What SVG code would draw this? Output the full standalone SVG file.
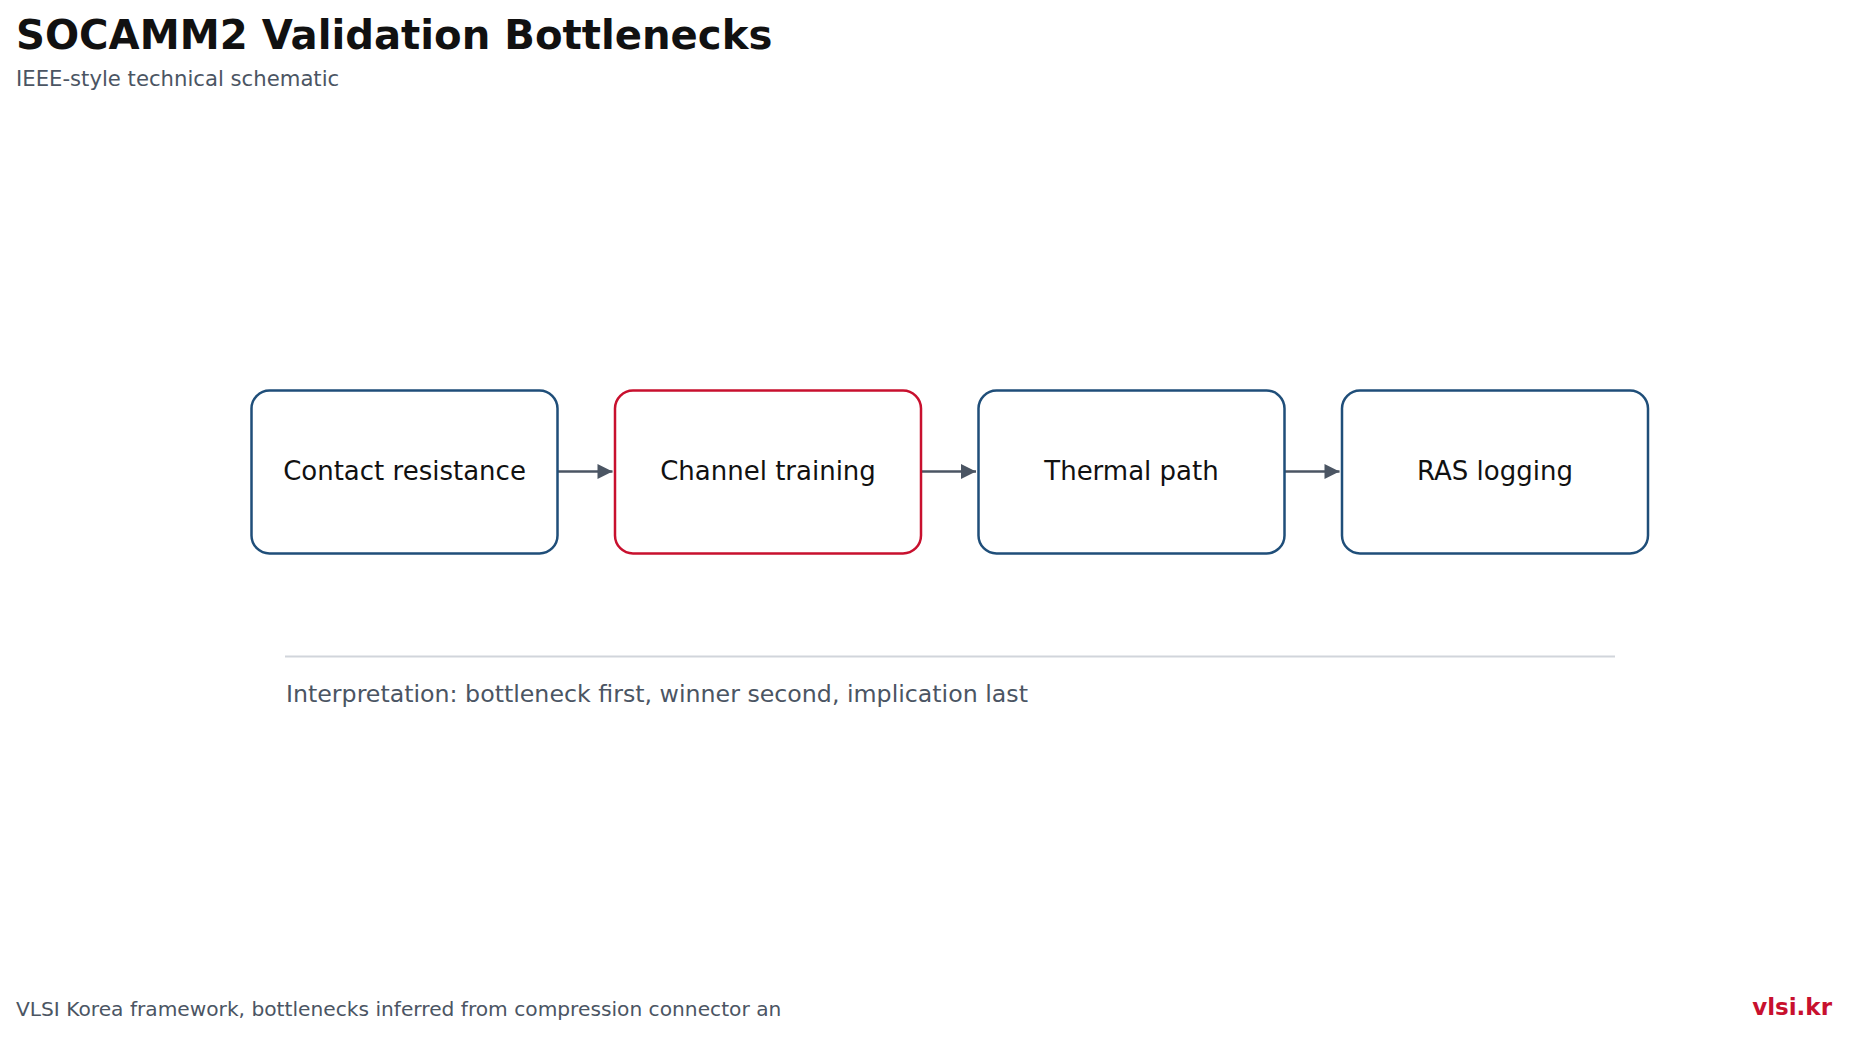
<svg xmlns="http://www.w3.org/2000/svg" width="1849" height="1038" viewBox="0 0 1849 1038">
<style>
.t{font-family:"DejaVu Sans","Noto Sans",sans-serif}
.box{fill:#fff;stroke:#1f4e79;stroke-width:2.5}
.hot{stroke:#c8102e}
.lbl{font-size:26px;fill:#111;text-anchor:middle}
.edge{stroke:#4b5563;stroke-width:2.5;fill:none}
</style>
<defs>
<marker id="ah" viewBox="0 0 10 10" refX="10" refY="5" markerWidth="16" markerHeight="15" markerUnits="userSpaceOnUse" orient="auto"><path d="M0,0L10,5L0,10z" fill="#4b5563"/></marker>
</defs>
<rect width="1849" height="1038" fill="#fff"/>
<text class="t" x="16" y="49" font-size="40.2" font-weight="bold" fill="#111">SOCAMM2 Validation Bottlenecks</text>
<text class="t" x="16" y="86" font-size="21.2" fill="#4b5563">IEEE-style technical schematic</text>
<g id="connectors">
<line class="edge" x1="557" y1="471.5" x2="612.5" y2="471.5" marker-end="url(#ah)"/>
<line class="edge" x1="920.5" y1="471.5" x2="976" y2="471.5" marker-end="url(#ah)"/>
<line class="edge" x1="1284" y1="471.5" x2="1339.5" y2="471.5" marker-end="url(#ah)"/>
</g>
<g id="n1"><rect class="box" x="251.5" y="390.5" width="306" height="163" rx="18"/><text class="t lbl" x="404.5" y="480">Contact resistance</text></g>
<g id="n2"><rect class="box hot" x="615" y="390.5" width="306" height="163" rx="18"/><text class="t lbl" x="768" y="480">Channel training</text></g>
<g id="n3"><rect class="box" x="978.5" y="390.5" width="306" height="163" rx="18"/><text class="t lbl" x="1131.5" y="480">Thermal path</text></g>
<g id="n4"><rect class="box" x="1342" y="390.5" width="306" height="163" rx="18"/><text class="t lbl" x="1495" y="480">RAS logging</text></g>
<line x1="285" y1="656.5" x2="1615" y2="656.5" stroke="#d1d5db" stroke-width="2"/>
<text class="t" x="286" y="702" font-size="23.7" fill="#4b5563">Interpretation: bottleneck first, winner second, implication last</text>
<text class="t" x="16" y="1016" font-size="20.2" fill="#4b5563">VLSI Korea framework, bottlenecks inferred from compression connector an</text>
<text class="t" x="1832" y="1015" font-size="23" font-weight="bold" fill="#c8102e" text-anchor="end">vlsi.kr</text>
</svg>
